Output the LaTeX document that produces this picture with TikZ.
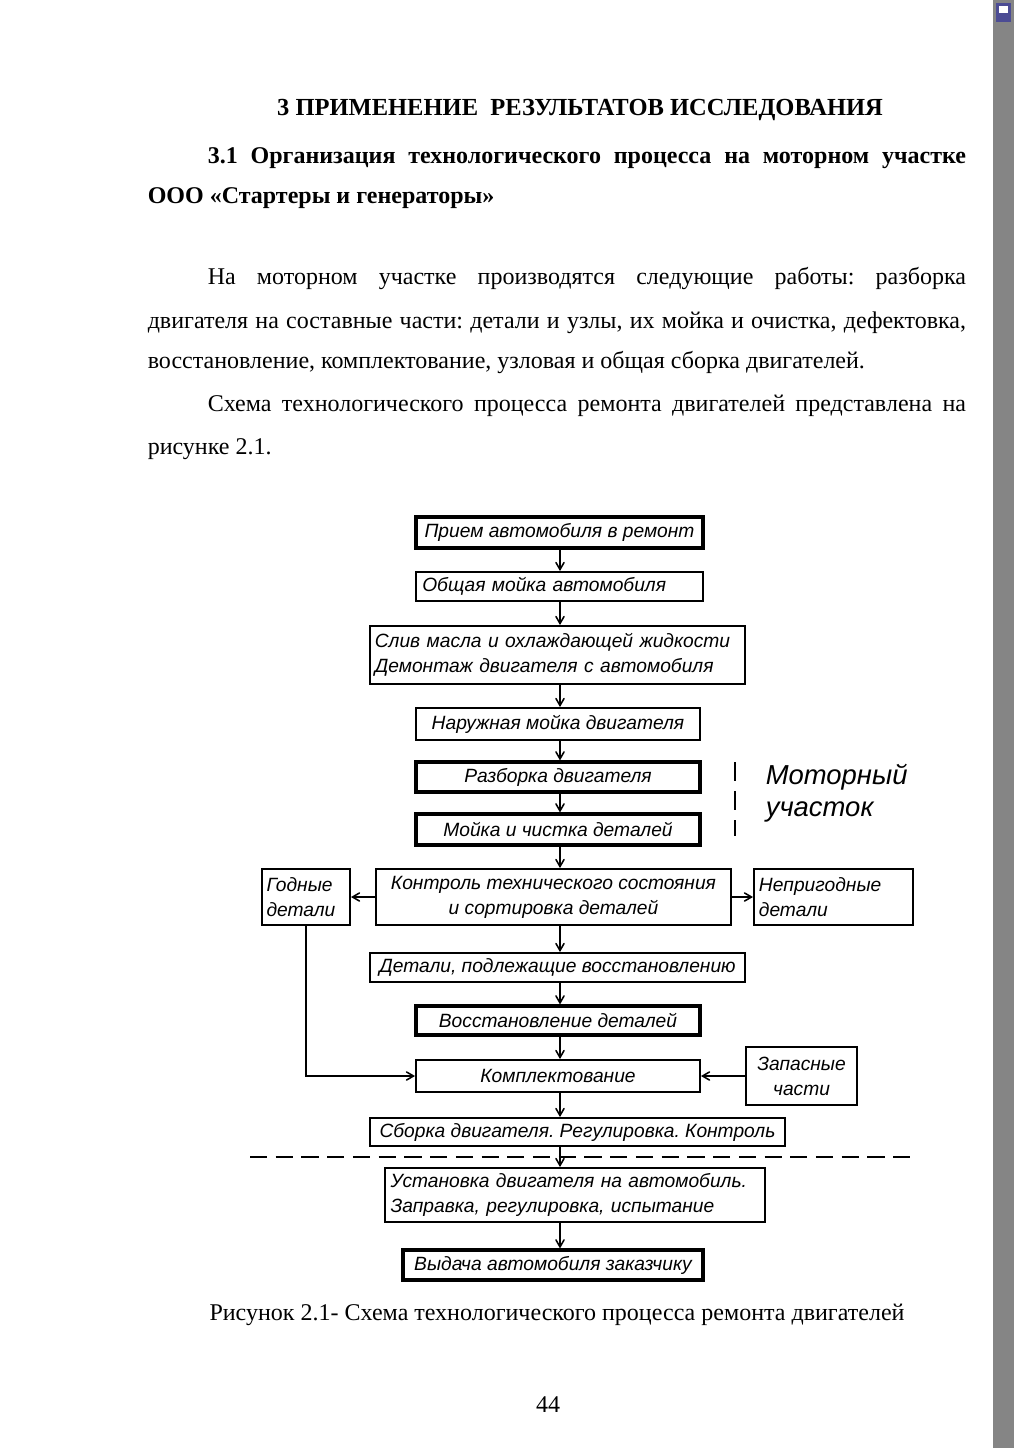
\documentclass[tikz,border=0pt]{standalone}
\usepackage{fontspec}
\setmainfont{Liberation Serif}
\newfontfamily\techfont{Liberation Sans}
\usepackage{tikz}
\usetikzlibrary{arrows}
\newcommand{\pxl}{0.0205cm}
\frenchspacing

\begin{document}
\begin{tikzpicture}[x=\pxl, y=-\pxl, ->, >=angle 60, line width=0.9pt]

	\tikzstyle{box}=[draw, line width=1.1pt, inner sep=2pt, align=center, font=\techfont\itshape\fontsize{11.2}{14.5}\selectfont]
	\tikzstyle{heavy}=[box, line width=1.8pt]
	\tikzstyle{txt}=[inner sep=0pt, anchor=base west, font=\fontsize{14}{16}\selectfont]
	\useasboundingbox (0,0) rectangle (1024,1448);

	% page text
	\node[txt, anchor=base, font=\bfseries\fontsize{14.3}{16}\selectfont] (title) at (580,115) {3 ПРИМЕНЕНИЕ\ \ РЕЗУЛЬТАТОВ ИССЛЕДОВАНИЯ};
	\node[txt, font=\bfseries\fontsize{14}{16}\selectfont] (sec1) at (207,163) {\makebox[442.1pt][s]{3.1 Организация технологического процесса на моторном участке}};
	\node[txt, font=\bfseries\fontsize{14}{16}\selectfont] (sec2) at (147,203) {ООО «Стартеры и генераторы»};
	\node[txt] (p1) at (207,284) {\makebox[442.1pt][s]{На моторном участке производятся следующие работы: разборка}};
	\node[txt] (p2) at (147,328) {\makebox[477.1pt][s]{двигателя на составные части: детали и узлы, их мойка и очистка, дефектовка,}};
	\node[txt] (p3) at (147,368) {восстановление, комплектование, узловая и общая сборка двигателей.};
	\node[txt] (p4) at (207,411) {\makebox[442.1pt][s]{Схема технологического процесса ремонта двигателей представлена на}};
	\node[txt] (p5) at (147,454) {рисунке 2.1.};

	% scheme
	\node[heavy, minimum width=287*\pxl, minimum height=31*\pxl] (B1) at (559.5,532.5) {Прием автомобиля в ремонт};
	\node[box, minimum width=287*\pxl, minimum height=29*\pxl, text width=160pt, align=left] (B2) at (559.5,586.5) {Общая мойка автомобиля};
	\node[box, minimum width=375*\pxl, minimum height=58*\pxl, text width=213pt, align=left] (B3) at (557.5,655) {Слив масла и охлаждающей жидкости\\Демонтаж двигателя с автомобиля};
	\node[box, minimum width=284*\pxl, minimum height=32*\pxl] (B4) at (558,724) {Наружная мойка двигателя};
	\node[heavy, minimum width=284*\pxl, minimum height=30*\pxl] (B5) at (558,777) {Разборка двигателя};
	\node[heavy, minimum width=284*\pxl, minimum height=31*\pxl] (B6) at (558,829.5) {Мойка и чистка деталей};
	\node[box, minimum width=355*\pxl, minimum height=56*\pxl] (B7) at (553.5,897) {Контроль технического состояния\\и сортировка деталей};
	\node[box, minimum width=88*\pxl, minimum height=56*\pxl, text width=46pt, align=left] (L) at (306,897) {Годные\\детали};
	\node[box, minimum width=159*\pxl, minimum height=56*\pxl, text width=87pt, align=left] (R) at (833.5,897) {Непригодные\\детали};
	\node[box, minimum width=375*\pxl, minimum height=29*\pxl] (B8) at (557.5,967.5) {Детали, подлежащие восстановлению};
	\node[heavy, minimum width=284*\pxl, minimum height=29*\pxl] (B9) at (558,1020.5) {Восстановление деталей};
	\node[box, minimum width=284*\pxl, minimum height=32*\pxl] (B10) at (558,1076) {Комплектование};
	\node[box, minimum width=111*\pxl, minimum height=58*\pxl] (S) at (801.5,1076) {Запасные\\части};
	\node[box, minimum width=415*\pxl, minimum height=28*\pxl] (B11) at (577.5,1132) {Сборка двигателя. Регулировка. Контроль};
	\node[box, minimum width=380*\pxl, minimum height=54*\pxl, text width=215pt, align=left] (B12) at (575,1195) {Установка двигателя на автомобиль.\\Заправка, регулировка, испытание};
	\node[heavy, minimum width=300*\pxl, minimum height=30*\pxl] (B13) at (553,1265) {Выдача автомобиля заказчику};

	\node[inner sep=0pt, anchor=west, font=\techfont\itshape\fontsize{16}{18}\selectfont] (lab1) at (765,777) {Моторный};
	\node[inner sep=0pt, anchor=west, font=\techfont\itshape\fontsize{16}{18}\selectfont] (lab2) at (765,812) {участок};
	\coordinate (md1) at (735,762);
	\coordinate (md2) at (735,836);
	\draw[-, line width=1pt, dash pattern=on 11pt off 6pt] (md1) -- (md2);

	\coordinate (dl) at (250,1157);
	\coordinate (dr) at (918,1157);
	\draw[-, line width=1.2pt, dash pattern=on 10pt off 5pt] (dl) -- (dr);

	% main flow
	\coordinate (ax) at (560,0);
	\path (B1.south -| ax) edge (B2.north -| ax);
	\path (B2.south -| ax) edge (B3.north -| ax);
	\path (B3.south -| ax) edge (B4.north -| ax);
	\path (B4.south -| ax) edge (B5.north -| ax);
	\path (B5.south -| ax) edge (B6.north -| ax);
	\path (B6.south -| ax) edge (B7.north -| ax);
	\path (B7.south -| ax) edge (B8.north -| ax);
	\path (B8.south -| ax) edge (B9.north -| ax);
	\path (B9.south -| ax) edge (B10.north -| ax);
	\path (B10.south -| ax) edge (B11.north -| ax);
	\path (B11.south -| ax) edge (B12.north -| ax);
	\path (B12.south -| ax) edge (B13.north -| ax);

	% sorting
	\path (B7.west) edge (L.east);
	\path (B7.east) edge (R.west);
	\draw (L.south) |- (B10.west);
	\path (S.west) edge (B10.east);

	% caption
	\node[txt, anchor=base] (cap) at (557,1320) {Рисунок 2.1- Схема технологического процесса ремонта двигателей};
	\node[txt, anchor=base] (pgno) at (548,1412) {44};

	% side strip
	\fill[black!48] (993,0) rectangle (1014,1448);
	\fill[blue!40!black!70] (996,3) rectangle (1011,22);
	\fill[white] (999,6) rectangle (1008,13);

\end{tikzpicture}
\end{document}
